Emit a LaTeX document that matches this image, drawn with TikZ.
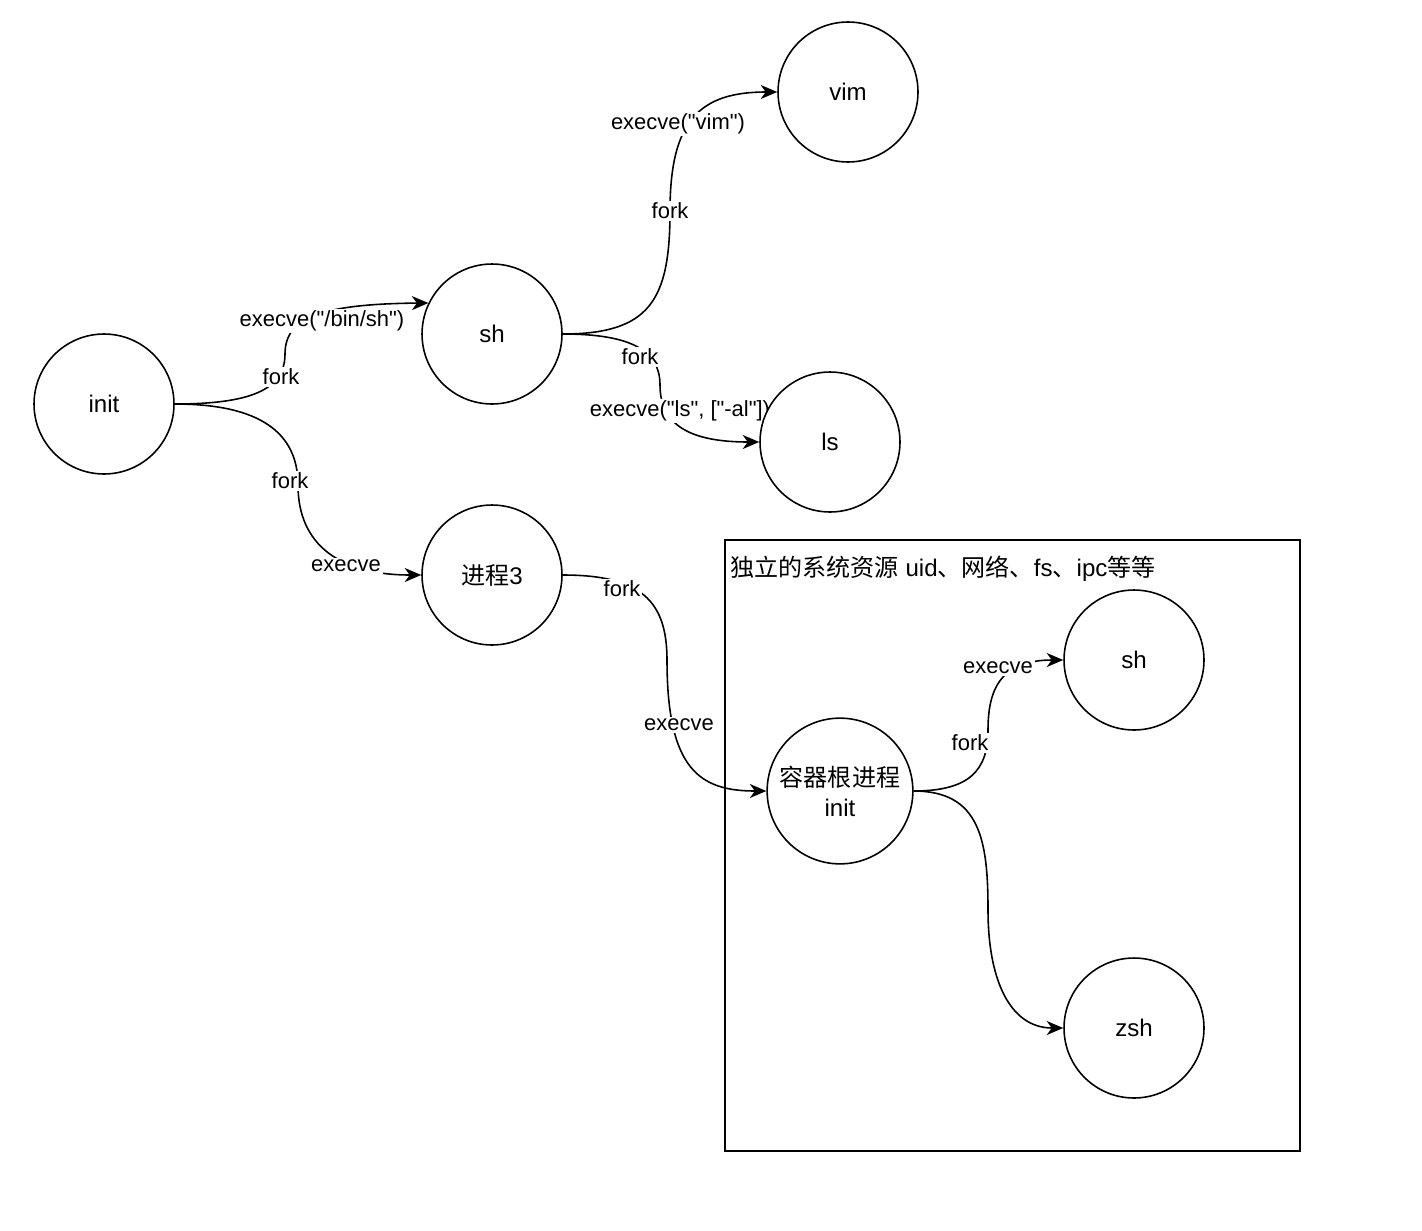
\documentclass[tikz,border=0pt]{standalone}
\usepackage{fontspec}
\setmainfont{Liberation Sans}[Ligatures=TeXOff]
\newfontfamily\cjk{Noto Sans CJK SC}
\usepackage{tikz}
\usetikzlibrary{arrows.meta, positioning}
\pgfdeclarelayer{wires}
\pgfsetlayers{wires,main}
\newcommand\procfont{\fontsize{13.7}{17}\selectfont}
\newcommand\edgefont{\fontsize{12.5}{15}\selectfont}

\begin{document}
\begin{tikzpicture}[
    x=0.02cm, y=-0.02cm,
    proc/.style={circle, draw, fill=white, minimum size=2.8cm, line width=0.9pt, align=center, font=\procfont},
    lbl/.style={fill=white, inner sep=1pt, font=\edgefont},
    link/.style={line width=0.9pt, -{Stealth[length=3.3mm, width=2.8mm, inset=1mm]}}
]
\useasboundingbox (0,0) rectangle (1422,1230);

% host processes
\node [proc] (init) at (104,404) {init};
\node [proc] (sh) at (492,334) {sh};
\node [proc] (vim) at (848,92) {vim};
\node [proc] (ls) at (830,442) {ls};
\node [proc] (p3) at (492,575) {{\cjk 进程}3};

% container
\node [proc] (cinit) at (840,791) {{\cjk 容器根进程}\\init};
\node [proc] (csh) at (1134,660) {sh};
\node [proc] (zsh) at (1134,1028) {zsh};
\node [anchor=west, inner sep=0pt, font=\procfont] (title) at (730,569)
  {{\cjk 独立的系统资源} uid{\cjk 、网络、}fs{\cjk 、}ipc{\cjk 等等}};

\begin{pgfonlayer}{wires}
\draw [line width=0.9pt] (725,540) rectangle (1300,1151);

% Connections
\draw [link] (init.east) .. controls (250,404) and (285,390) .. (285,354)
  .. controls (285,318) and (320,304) .. (sh.{154});
\draw [link] (init.east) .. controls (270,404) and (298,440) .. (298,485)
  .. controls (298,545) and (340,575) .. (p3.west);
\draw [link] (sh.east) .. controls (650,334) and (670,300) .. (670,211)
  .. controls (670,120) and (700,92) .. (vim.west);
\draw [link] (sh.east) .. controls (630,334) and (660,350) .. (660,385)
  .. controls (660,425) and (690,442) .. (ls.west);
\draw [link] (p3.east) .. controls (640,575) and (667,600) .. (667,660)
  .. controls (667,770) and (700,791) .. (cinit.west);
\draw [link] (cinit.east) .. controls (970,791) and (988,770) .. (988,730)
  .. controls (988,690) and (1000,660) .. (csh.west);
\draw [link] (cinit.east) .. controls (980,791) and (988,840) .. (988,910)
  .. controls (988,980) and (1010,1028) .. (zsh.west);

% edge labels
\node [lbl] (l1) at (281,377) {fork};
\node [lbl] (l2) at (322,321) {execve("/bin/sh")};
\node [lbl] (l3) at (290,481) {fork};
\node [lbl] (l4) at (346,566) {execve};
\node [lbl] (l5) at (670,211) {fork};
\node [lbl] (l6) at (678,124) {execve("vim")};
\node [lbl] (l7) at (640,357) {fork};
\node [lbl] (l8) at (680,411) {execve("ls", ["-al"])};
\node [lbl] (l9) at (622,589) {fork};
\node [lbl] (l10) at (679,725) {execve};
\node [lbl] (l11) at (970,743) {fork};
\node [lbl] (l12) at (998,668) {execve};
\end{pgfonlayer}

\end{tikzpicture}
\end{document}
